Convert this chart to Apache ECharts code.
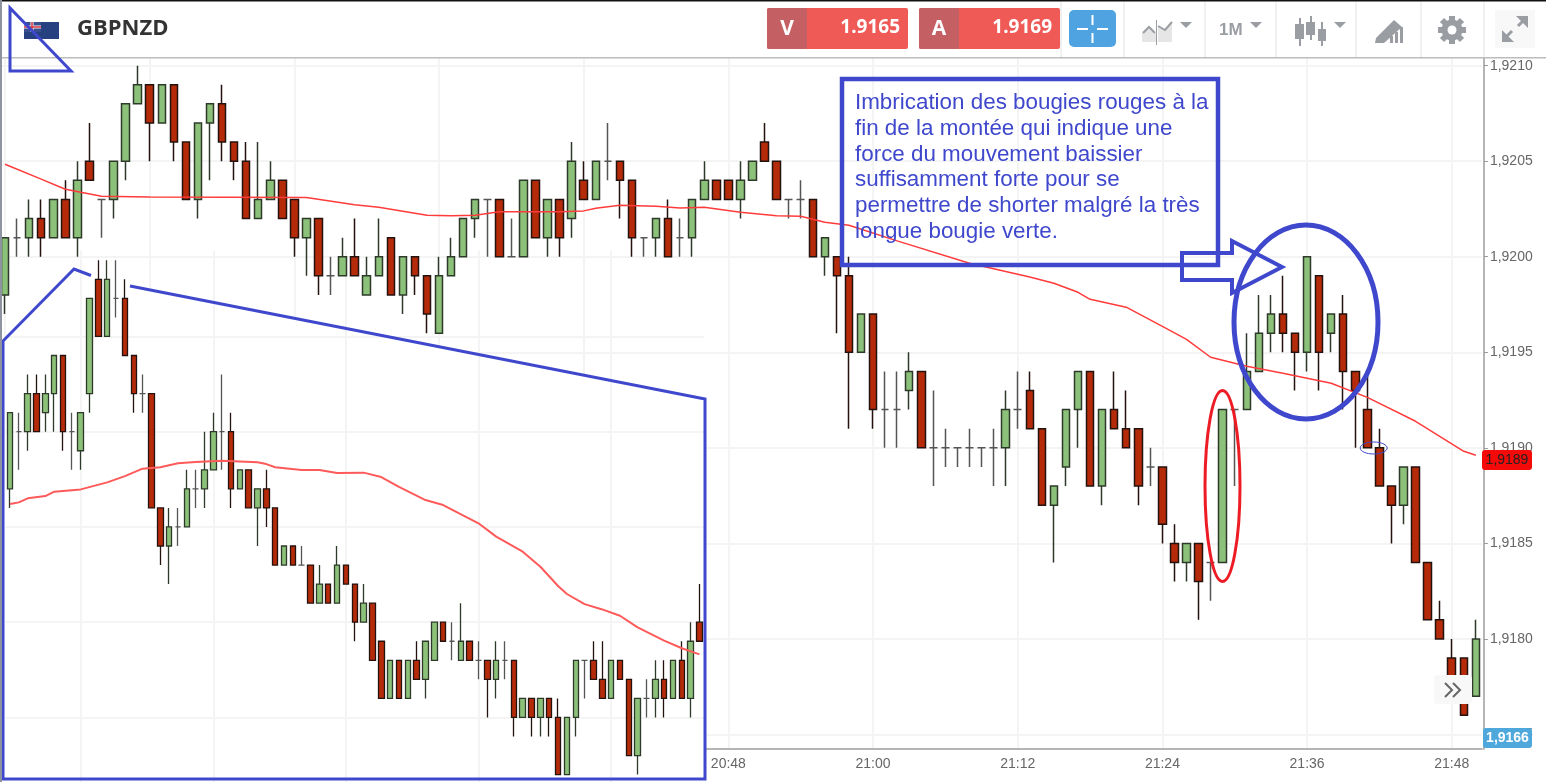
<!DOCTYPE html>
<html>
<head>
<meta charset="utf-8">
<title>GBPNZD</title>
<style>html,body{margin:0;padding:0;background:#fff;overflow:hidden}#c{width:1546px;height:782px}</style>
<script src="https://cdn.jsdelivr.net/npm/echarts@6/dist/echarts.min.js"></script>
</head>
<body>
<div id="c"></div>
<script>
// Main chart: values in pips from 1.9200, one per minute from 19:48
const mainOpen = [-2,1,1,2,1,3,1,5,3,3,5,8,9,7,9,6,3,7,8,6,5,2,3,4,3,1,2,-1,-1,0,-2,-1,1,-2,0,-1,-4,-1,0,2,3,3,0,0,4,1,3,2,4,3,5,5,4,1,1,2,1,1,3,4,4,3,4,6,5,3,3,3,0,0,-1,-5,-3,-8,-8,-7,-6,-10,-10,-10,-10,-10,-10,-10,-8,-7,-9,-13,-11,-8,-6,-12,-8,-9,-9,-11,-11,-15,-16,-15,-16,-16,-8,-8,-6,-4,-3,-4,-5,-1,-4,-3,-6,-8,-10,-12,-13,-11,-16,-19,-21,-21,-23];
const mainClose = [1,1,2,1,3,1,4,4,3,5,8,9,7,9,6,3,7,8,6,5,2,3,4,2,1,2,-1,-1,0,-1,-1,0,-2,0,-1,-3,-1,0,2,3,3,0,0,4,1,3,1,5,3,5,5,4,1,1,2,0,1,3,4,3,3,4,5,5,3,3,3,0,1,-1,-5,-3,-8,-8,-8,-6,-10,-10,-10,-10,-10,-10,-10,-8,-8,-9,-13,-12,-8,-6,-12,-8,-9,-10,-12,-11,-14,-16,-15,-17,-16,-8,-8,-6,-4,-3,-4,-5,0,-5,-3,-6,-7,-10,-12,-13,-11,-16,-19,-20,-22,-24,-20];
const mainLow = [-3,0,0,0,1,1,0,4,1,2,4,8,5,7,5,3,2,4,5,4,2,2,3,2,0,-1,-2,-2,-1,-1,-2,-1,-2,-3,-2,-4,-4,-1,0,1,0,0,0,0,1,0,0,1,3,3,4,2,0,0,0,0,0,0,3,3,3,2,4,5,3,2,2,0,-1,-4,-9,-5,-9,-10,-10,-8,-10,-12,-11,-11,-11,-11,-12,-12,-9,-9,-13,-16,-12,-10,-12,-13,-9,-10,-13,-12,-15,-17,-17,-19,-18,-16,-12,-8,-6,-5,-5,-7,-6,-7,-5,-8,-10,-10,-12,-15,-14,-16,-19,-20,-22,-24,-23];
const mainHigh = [1,2,3,3,3,4,5,7,3,5,8,10,9,9,9,6,7,8,9,6,6,6,5,4,3,2,2,0,1,2,0,2,1,0,0,-1,0,1,2,3,3,3,2,4,4,3,3,6,5,5,7,5,4,1,2,3,2,3,5,4,4,5,5,7,5,3,4,3,1,0,0,-3,-3,-6,-6,-5,-6,-7,-9,-10,-9,-10,-9,-7,-6,-6,-9,-12,-8,-6,-6,-8,-6,-7,-9,-10,-11,-14,-15,-15,-16,-8,-8,-4,-2,-2,-1,-4,0,-1,-3,-2,-6,-6,-9,-12,-11,-11,-16,-18,-20,-21,-19];
const timeLabels = ['19:48','19:49','19:50','19:51','19:52','19:53','19:54','19:55','19:56','19:57','19:58','19:59','20:00','20:01','20:02','20:03','20:04','20:05','20:06','20:07','20:08','20:09','20:10','20:11','20:12','20:13','20:14','20:15','20:16','20:17','20:18','20:19','20:20','20:21','20:22','20:23','20:24','20:25','20:26','20:27','20:28','20:29','20:30','20:31','20:32','20:33','20:34','20:35','20:36','20:37','20:38','20:39','20:40','20:41','20:42','20:43','20:44','20:45','20:46','20:47','20:48','20:49','20:50','20:51','20:52','20:53','20:54','20:55','20:56','20:57','20:58','20:59','21:00','21:01','21:02','21:03','21:04','21:05','21:06','21:07','21:08','21:09','21:10','21:11','21:12','21:13','21:14','21:15','21:16','21:17','21:18','21:19','21:20','21:21','21:22','21:23','21:24','21:25','21:26','21:27','21:28','21:29','21:30','21:31','21:32','21:33','21:34','21:35','21:36','21:37','21:38','21:39','21:40','21:41','21:42','21:43','21:44','21:45','21:46','21:47','21:48','21:49','21:50'];
const maIndex = [0,3,5,8,12,25,29,31,35,37,39,41,46,48,49,51,54,56,58,61,64,66,68,70,74,80,85,87,89,90,93,96,98,100,103,106,108,110,113,117,121,122];
const maValue = [4.84,4.06,3.53,3.17,3.12,3.10,2.72,2.59,2.17,2.14,2.17,2.35,2.35,2.40,2.54,2.70,2.64,2.55,2.59,2.33,2.14,2.12,1.81,1.65,0.83,-0.34,-1.06,-1.39,-1.86,-2.23,-2.64,-3.64,-4.32,-5.26,-5.73,-6.10,-6.36,-6.62,-7.36,-8.61,-10.18,-10.39];
// Inset pasted bottom left: values in pips from its own unlabelled reference level
const insetOpen = [-3,0,0,2,1,2,4,0,-1,2,8,5,7,7,4,2,2,-4,-6,-5,-5,-3,-3,-2,0,0,-3,-2,-4,-3,-4,-7,-6,-7,-7,-9,-8,-9,-7,-8,-10,-9,-11,-14,-12,-14,-12,-13,-12,-10,-11,-12,-11,-12,-12,-13,-12,-12,-15,-14,-15,-14,-15,-18,-15,-12,-12,-13,-14,-12,-13,-17,-14,-14,-13,-14,-12,-14,-10];
const insetClose = [1,0,2,0,2,4,0,0,1,7,5,8,7,4,2,2,-4,-6,-5,-5,-3,-3,-2,0,0,-3,-2,-4,-3,-4,-7,-6,-7,-7,-9,-8,-9,-7,-8,-10,-9,-12,-14,-12,-14,-12,-13,-11,-10,-11,-11,-11,-12,-12,-13,-12,-12,-15,-14,-15,-14,-15,-18,-15,-12,-12,-13,-14,-12,-13,-17,-14,-14,-13,-14,-12,-14,-11,-11];
const insetLow = [-4,-2,-1,0,0,0,-1,-2,-2,1,5,5,6,4,1,1,-4,-7,-8,-6,-5,-4,-4,-2,-2,-4,-3,-4,-6,-5,-7,-7,-7,-7,-9,-9,-9,-9,-8,-11,-10,-12,-14,-14,-14,-14,-13,-14,-12,-11,-12,-12,-12,-13,-15,-14,-13,-16,-15,-16,-16,-16,-18,-18,-16,-14,-13,-14,-14,-13,-17,-18,-15,-15,-15,-14,-14,-15,-11];
const insetHigh = [1,1,3,3,3,4,4,1,1,7,9,9,9,8,4,3,2,-4,-4,-4,-2,-2,0,1,3,1,-2,-2,-3,-2,-4,-6,-6,-6,-7,-7,-8,-6,-7,-8,-8,-9,-11,-12,-12,-12,-11,-11,-10,-10,-10,-9,-11,-11,-12,-11,-11,-12,-14,-14,-14,-14,-14,-15,-12,-12,-11,-11,-12,-12,-13,-14,-13,-12,-12,-12,-11,-10,-8];
const insetLabels = ['19:00','19:01','19:02','19:03','19:04','19:05','19:06','19:07','19:08','19:09','19:10','19:11','19:12','19:13','19:14','19:15','19:16','19:17','19:18','19:19','19:20','19:21','19:22','19:23','19:24','19:25','19:26','19:27','19:28','19:29','19:30','19:31','19:32','19:33','19:34','19:35','19:36','19:37','19:38','19:39','19:40','19:41','19:42','19:43','19:44','19:45','19:46','19:47','19:48','19:49','19:50','19:51','19:52','19:53','19:54','19:55','19:56','19:57','19:58','19:59','20:00','20:01','20:02','20:03','20:04','20:05','20:06','20:07','20:08','20:09','20:10','20:11','20:12','20:13','20:14','20:15','20:16','20:17','20:18'];
const insetMaIndex = [0,1,2,4,5,8,11,13,15,17,19,21,24,28,29,30,33,35,37,40,42,44,47,49,53,55,58,60,62,63,65,67,69,71,74,76,78];
const insetMaValue = [-3.80,-3.71,-3.50,-3.38,-3.15,-3.03,-2.66,-2.33,-1.94,-1.87,-1.66,-1.59,-1.52,-1.61,-1.70,-1.87,-2.01,-2.01,-2.17,-2.15,-2.38,-2.90,-3.59,-3.85,-4.81,-5.51,-6.30,-7.09,-8.10,-8.52,-9.05,-9.33,-9.66,-10.27,-10.97,-11.37,-11.69];
const noteLines = ['Imbrication des bougies rouges à la','fin de la montée qui indique une','force du mouvement baissier','suffisamment forte pour se','permettre de shorter malgré la très','longue bougie verte.'];

const price = p => +(1.92 + p / 10000).toFixed(6);
const BLUE = '#3f48cc', GREY = '#9a9ea3', SEP = '#e2e2e2';
const mainCandles = mainOpen.map((o, i) => [price(o), price(mainClose[i]), price(mainLow[i]), price(mainHigh[i])]);
const insetCandles = insetOpen.map((o, i) => [o, insetClose[i], insetLow[i], insetHigh[i]]);
const candleStyle = {color:'#8cc17a', color0:'#b52b0a', borderColor:'#2d3a29', borderColor0:'#24120e', borderColorDoji:'#555'};
const gridLine = {show:true, lineStyle:{color:'#f4f4f4', width:2}};
const line = (pts, extra) => Object.assign({type:'polyline', shape:{points:pts}, z:10, silent:true, style:{stroke:BLUE, lineWidth:3, fill:null}}, extra||{});
const box = (x,y,w,h,fill,r,z) => ({type:'rect', shape:{x,y,width:w,height:h,r:r||0}, style:{fill}, z:z||12, silent:true});
const txt = (x,y,t,size,color,weight,align,font) => ({type:'text', x, y, z:15, silent:true, style:{text:t, fontSize:size, fill:color, fontWeight:weight||'normal', align:align||'left', verticalAlign:'middle', fontFamily:font||'"Open Sans","Liberation Sans",sans-serif'}});
const seg = (x1,y1,x2,y2,c,w) => ({type:'line', shape:{x1,y1,x2,y2}, z:13, silent:true, style:{stroke:c, lineWidth:w||1}});
const caret = (x,y,c) => ({type:'polygon', shape:{points:[[x-6,y-3],[x+6,y-3],[x,y+3]]}, style:{fill:c||GREY}, z:13, silent:true});

const graphic = [
  // white patch holding the inset
  {type:'polygon', z:1, silent:true, shape:{points:[[3,341],[74,269],[130,286],[705,399],[705,779],[3,779]]}, style:{fill:'#fff'}},
  {type:'rect', z:1, silent:true, shape:{x:0,y:749,width:705,height:33}, style:{fill:'#fff'}},
  // header band
  box(0,0,1546,57,'#fff',0,12),
  box(0,0,1546,1.5,'#111',0,13),
  box(0,57,1546,1.5,'#bcbcbc',0,13),
  box(0,0,2,782,'#8d93a0',0,13),
  // flag
  box(24,22,35,17,'#27407f',0,13),
  box(24,22,17,10,'#3a4f8f',0,13),
  seg(24,27,41,27,'#f3f3f3',3), seg(32,22,32,32,'#f3f3f3',3),
  seg(24,27,41,27,'#d9343f',1.5), seg(32,22,32,32,'#d9343f',1.5),
  txt(77,29,'GBPNZD',22,'#333','bold'),
  // sell / buy boxes
  box(767,8,141,41,'#ef5a56',2,13), box(767,8,40,41,'#c46064',2,14),
  txt(787,29,'V',21,'#fff','bold','center'),
  txt(900,28,'1.9165',19,'#fff','bold','right','"Noto Sans","Liberation Sans",sans-serif'),
  box(919,8,141,41,'#ef5a56',2,13), box(919,8,40,41,'#c46064',2,14),
  txt(939,29,'A',21,'#fff','bold','center'),
  txt(1052,28,'1.9169',19,'#fff','bold','right','"Noto Sans","Liberation Sans",sans-serif'),
  box(1069,10,47,37,'#4ea3e0',5,13),
  seg(1077,29,1088,29,'#fff',2), seg(1097,29,1108,29,'#fff',2), seg(1092.5,15,1092.5,25,'#fff',2), seg(1092.5,33,1092.5,43,'#fff',2),
  // separators
  seg(1061,2,1061,57,SEP), seg(1124,2,1124,57,SEP), seg(1205,2,1205,57,SEP), seg(1276,2,1276,57,SEP), seg(1356,2,1356,57,SEP), seg(1421,2,1421,57,SEP), seg(1484,2,1484,57,SEP),
  // toolbar icons
  {type:'polygon', z:13, silent:true, shape:{points:[[1142,42],[1142,33],[1149,27],[1156,34],[1156,42]]}, style:{fill:'#e6e6e6'}},
  {type:'polygon', z:13, silent:true, shape:{points:[[1158,42],[1158,26],[1165,30],[1172,22],[1172,42]]}, style:{fill:'#e6e6e6'}},
  {type:'polyline', z:13, silent:true, shape:{points:[[1143,33],[1149,27],[1155,33]]}, style:{stroke:GREY,lineWidth:2,fill:null}},
  {type:'polyline', z:13, silent:true, shape:{points:[[1158,26],[1165,30],[1172,22]]}, style:{stroke:GREY,lineWidth:2,fill:null}},
  seg(1156.5,20,1156.5,45,GREY,1),
  caret(1186,25),
  txt(1219,30,'1M',17,GREY,'bold','left','"Liberation Sans",sans-serif'), caret(1256,25),
  seg(1300,18,1300,46,GREY,2), box(1295,24,9,15,GREY,0,13),
  seg(1311,16,1311,40,GREY,2), box(1306,22,9,13,GREY,0,13),
  seg(1322,22,1322,46,GREY,2), box(1318,29,8,12,GREY,0,13),
  caret(1340,25),
  {type:'polygon', z:13, silent:true, shape:{points:[[1376,38],[1394,20],[1402,27],[1384,43],[1375,43]]}, style:{fill:GREY}},
  box(1390,36,3,7,GREY,0,13), box(1395,32,3,11,GREY,0,13), box(1400,27,3,16,GREY,0,13),
  // gear
  seg(1452,16,1452,44,GREY,6), seg(1438,30,1466,30,GREY,6), seg(1442,20,1462,40,GREY,6), seg(1462,20,1442,40,GREY,6),
  {type:'circle', z:14, silent:true, shape:{cx:1452,cy:30,r:10.5}, style:{fill:GREY}},
  {type:'circle', z:14.5, silent:true, shape:{cx:1452,cy:30,r:4.5}, style:{fill:'#fff'}},
  // expand
  box(1495,10,40,38,'#f8f8f8',0,12),
  seg(1518,26,1524,20,GREY,3), seg(1505,38,1512,31,GREY,3),
  {type:'polygon', z:13, silent:true, shape:{points:[[1516,16],[1528,16],[1528,28]]}, style:{fill:GREY}},
  {type:'polygon', z:13, silent:true, shape:{points:[[1502,30],[1502,42],[1514,42]]}, style:{fill:GREY}},
  // hand-drawn annotations
  {type:'polygon', z:14, silent:true, shape:{points:[[10,8],[10,71],[71,71]]}, style:{stroke:BLUE,lineWidth:3,fill:null}},
  line([[91,275.5],[74,269],[3,341],[3,779],[705,779],[705,399],[130,286]]),
  {type:'rect', z:10, silent:true, shape:{x:842,y:79,width:376,height:186}, style:{stroke:BLUE,lineWidth:4.5,fill:null}},
  ...noteLines.map((t,i) => txt(855,[103,129,155,180,206,232][i],t,22.4,BLUE,'normal','left','"Liberation Sans",Arial,sans-serif')),
  {type:'polygon', z:10, silent:true, shape:{points:[[1182,253],[1232,253],[1232,241],[1282,267],[1232,293],[1232,280],[1182,280]]}, style:{stroke:BLUE,lineWidth:4,fill:null}},
  {type:'ellipse', z:10, silent:true, shape:{cx:1306,cy:322,rx:72,ry:97}, style:{stroke:BLUE,lineWidth:5,fill:null}},
  {type:'ellipse', z:10, silent:true, shape:{cx:1222.5,cy:486,rx:17.5,ry:95.5}, style:{stroke:'#ed1c24',lineWidth:3,fill:null}},
  {type:'ellipse', z:10, silent:true, shape:{cx:1373.7,cy:448,rx:13.5,ry:6}, style:{stroke:BLUE,lineWidth:1,fill:null}},
  // price flags
  box(1482,450,50,20,'#f50a0a',3,12), txt(1507,460,'1,9189',14,'#222','normal','center','"Liberation Sans",sans-serif'),
  box(1483,728,49,20,'#4fa8dc',3,12), txt(1507.5,738,'1,9166',14,'#fff','bold','center','"Liberation Sans",sans-serif'),
  // scroll button
  box(1434,675,38,29,'#f8f8f8',4,12),
  {type:'polyline', z:13, silent:true, shape:{points:[[1445,683],[1452,690],[1445,697]]}, style:{stroke:'#666',lineWidth:2,fill:null}},
  {type:'polyline', z:13, silent:true, shape:{points:[[1453,683],[1460,690],[1453,697]]}, style:{stroke:'#666',lineWidth:2,fill:null}}
];

const chart = echarts.init(document.getElementById('c'), null, {renderer:'canvas'});
chart.setOption({
  animation:false,
  backgroundColor:'#fff',
  graphic:{elements:graphic},
  grid:[
    {left:-1, top:58, width:123*12.056, height:691, outerBoundsMode:'none'},
    {left:5.58, top:250.7, width:79*8.84, height:562, outerBoundsMode:'none'}
  ],
  xAxis:[
    {type:'category', gridIndex:0, data:timeLabels, z:0,
     axisLine:{lineStyle:{color:'#b5b5b5',width:2}},
     axisTick:{alignWithLabel:true, length:5, interval:i=>i>=60&&i%12===0, lineStyle:{color:'#999'}},
     axisLabel:{interval:i=>i>=60&&i%12===0, color:'#666', fontSize:14, fontFamily:'"Liberation Sans",Arial,sans-serif', margin:8},
     splitLine:Object.assign({alignWithLabel:true, interval:i=>i%12===0}, gridLine)},
    {type:'category', gridIndex:1, data:insetLabels, z:2,
     axisLine:{show:false}, axisTick:{show:false}, axisLabel:{show:false},
     splitLine:Object.assign({alignWithLabel:true, interval:i=>i%15===8}, gridLine)}
  ],
  yAxis:[
    {type:'value', gridIndex:0, position:'right', offset:2, min:1.917424, max:1.92104, splitNumber:7, z:0, scale:true,
     axisLine:{show:true,lineStyle:{color:'#b5b5b5',width:2}},
     axisTick:{show:true,length:4,lineStyle:{color:'#999'}},
     axisLabel:{color:'#666', fontSize:14, margin:6, fontFamily:'"Liberation Sans",Arial,sans-serif', showMinLabel:false, showMaxLabel:false,
       formatter:v=>v.toFixed(4).replace('.',',')},
     splitLine:Object.assign({showMinLine:false, showMaxLine:false}, gridLine)},
    {type:'value', gridIndex:1, min:-20, max:9.5, interval:5, z:2,
     axisLine:{show:false}, axisTick:{show:false}, axisLabel:{show:false},
     splitLine:Object.assign({showMinLine:false, showMaxLine:false}, gridLine)}
  ],
  series:[
    {type:'candlestick', name:'GBPNZD', xAxisIndex:0, yAxisIndex:0, data:mainCandles, barWidth:8, z:3,
     itemStyle:Object.assign({borderWidth:1.5}, candleStyle)},
    {type:'line', name:'MA', xAxisIndex:0, yAxisIndex:0, data:maIndex.map((x,i)=>[x,price(maValue[i])]), showSymbol:false, z:4,
     lineStyle:{color:'#ff3b3b',width:1.5}},
    {type:'candlestick', name:'inset', xAxisIndex:1, yAxisIndex:1, data:insetCandles, barWidth:6, z:3,
     itemStyle:Object.assign({borderWidth:1.3}, candleStyle)},
    {type:'line', name:'inset MA', xAxisIndex:1, yAxisIndex:1, data:insetMaIndex.map((x,i)=>[x,insetMaValue[i]]), showSymbol:false, z:4,
     lineStyle:{color:'#ff5a5a',width:2}}
  ]
});
</script>
</body>
</html>
